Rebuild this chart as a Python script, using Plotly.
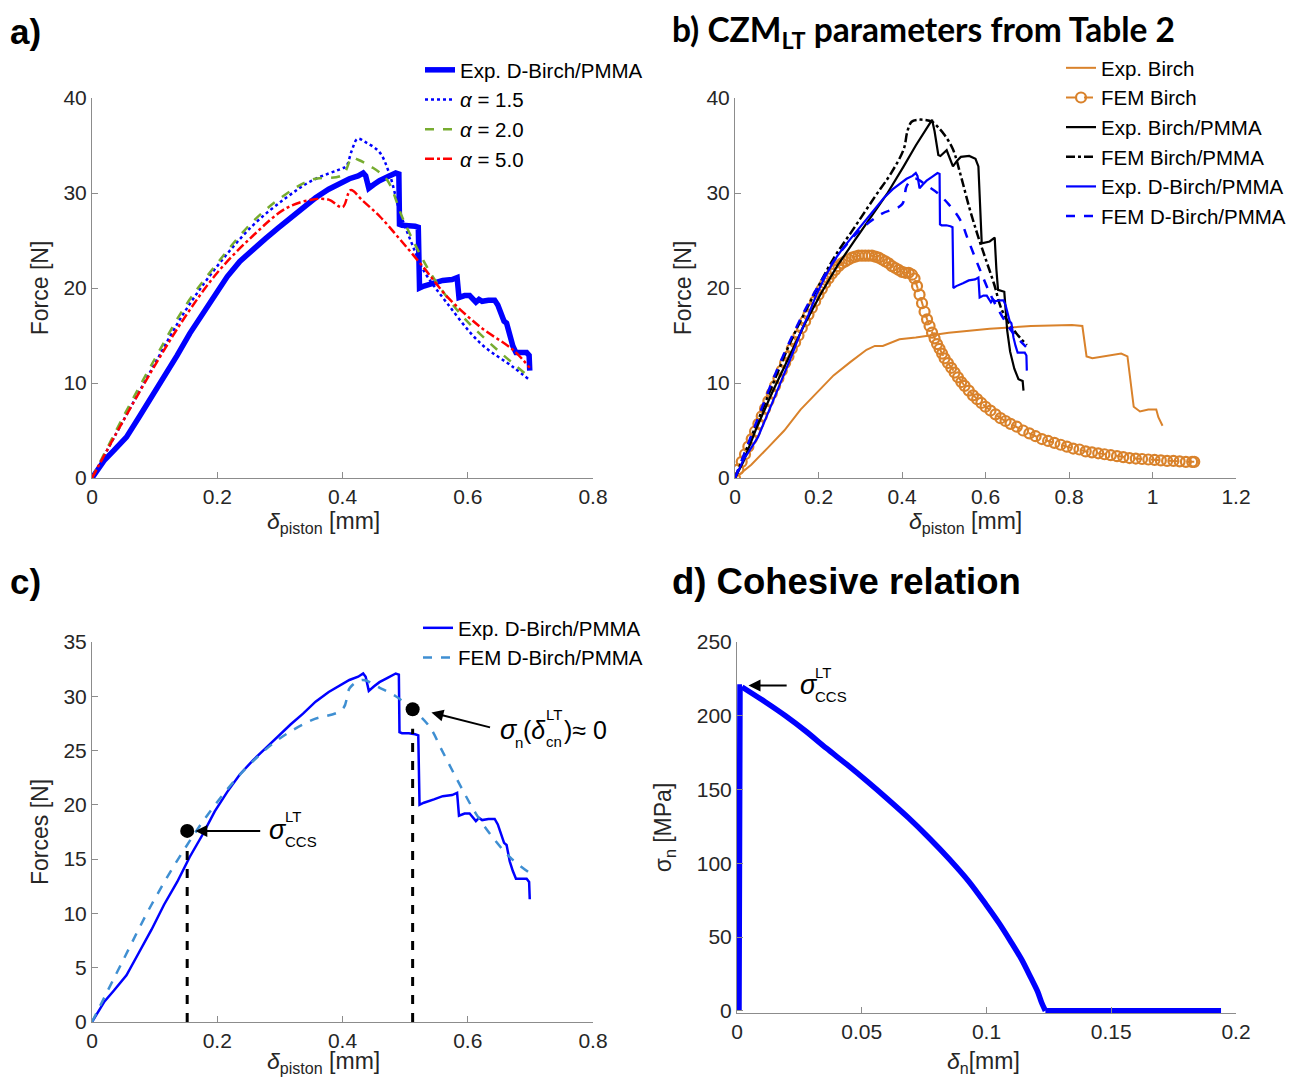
import plotly.graph_objects as go

# ---------------- DATA ----------------
# Panel a / b / c : experimental D-Birch/PMMA
exp_dbirch_x = [0, 0.02, 0.035, 0.055, 0.075, 0.095, 0.115, 0.136, 0.156, 0.176, 0.196, 0.216, 0.236, 0.257,
                0.277, 0.297, 0.317, 0.337, 0.357, 0.378, 0.398, 0.411, 0.425, 0.433, 0.437, 0.442, 0.45, 0.459,
                0.472, 0.485, 0.49, 0.491, 0.495, 0.506, 0.516, 0.521, 0.523, 0.53, 0.546, 0.56, 0.575, 0.583,
                0.586, 0.595, 0.603, 0.61, 0.613, 0.618, 0.623, 0.633, 0.643, 0.648, 0.653, 0.658, 0.662, 0.667,
                0.672, 0.677, 0.685, 0.694, 0.698, 0.699]
exp_dbirch_y = [0, 1.9, 2.9, 4.3, 6.4, 8.5, 10.8, 12.9, 15.2, 17.2, 19.4, 21.2, 22.8, 24.1,
                25.2, 26.3, 27.4, 28.4, 29.5, 30.4, 31.1, 31.5, 31.8, 32.1, 31.8, 30.5, 30.9, 31.3,
                31.7, 32.1, 32.0, 26.7, 26.6, 26.6, 26.5, 26.4, 20.0, 20.2, 20.5, 20.8, 20.9, 21.1,
                19.0, 19.2, 19.2, 18.7, 18.5, 18.8, 18.6, 18.7, 18.7, 18.2, 17.4, 16.5, 16.3, 14.8,
                13.9, 13.2, 13.2, 13.2, 12.9, 11.3]

# Panel a : FEM with different alpha
a15_x = [0, 0.048, 0.1, 0.149, 0.2, 0.257, 0.31, 0.351, 0.4, 0.406, 0.415, 0.424, 0.438, 0.459, 0.475, 0.492,
         0.51, 0.529, 0.567, 0.62, 0.672, 0.699]
a15_y = [0, 5.8, 12.0, 17.6, 22.3, 26.6, 29.5, 31.3, 32.6, 32.8, 34.5, 35.7, 35.3, 34.3, 32.0, 27.9,
         24.8, 21.9, 18.4, 14.2, 11.7, 10.3]
a20_x = [0, 0.048, 0.1, 0.149, 0.2, 0.257, 0.31, 0.351, 0.4, 0.415, 0.425, 0.445, 0.471, 0.497, 0.529, 0.551,
         0.592, 0.647, 0.699]
a20_y = [0, 6.2, 12.5, 18.1, 22.6, 27.0, 29.9, 31.4, 31.9, 33.7, 33.5, 32.8, 31.4, 27.2, 22.9, 20.5,
         17.0, 13.5, 10.6]
a50_x = [0, 0.048, 0.1, 0.149, 0.2, 0.257, 0.31, 0.351, 0.378, 0.4, 0.413, 0.432, 0.46, 0.492, 0.529, 0.567,
         0.62, 0.672, 0.699]
a50_y = [0, 5.8, 11.8, 17.0, 21.6, 25.5, 28.4, 29.3, 29.3, 28.5, 30.3, 29.2, 27.5, 25.1, 22.2, 19.1,
         15.9, 13.5, 11.6]

# Panel b
exp_birch_x = [0, 0.039, 0.079, 0.118, 0.157, 0.197, 0.236, 0.276, 0.315, 0.335, 0.354, 0.394, 0.433, 0.512,
               0.61, 0.709, 0.807, 0.832, 0.842, 0.856, 0.886, 0.925, 0.94, 0.955, 0.97, 0.99, 1.009, 1.014, 1.024]
exp_birch_y = [0, 1.4, 3.2, 5.0, 7.2, 9.0, 10.8, 12.2, 13.5, 13.9, 13.9, 14.6, 14.8, 15.3,
               15.7, 16.0, 16.1, 16.0, 12.8, 12.6, 12.8, 13.1, 12.8, 7.5, 7.0, 7.2, 7.2, 6.4, 5.5]

fem_birch_x = [0.000, 0.008, 0.016, 0.024, 0.032, 0.040, 0.048, 0.056, 0.064, 0.072, 0.080, 0.088, 0.096, 0.104,
               0.112, 0.120, 0.128, 0.136, 0.144, 0.152, 0.160, 0.168, 0.176, 0.184, 0.192, 0.200, 0.208, 0.216,
               0.224, 0.232, 0.240, 0.248, 0.256, 0.264, 0.272, 0.280, 0.288, 0.296, 0.304, 0.312, 0.320, 0.328,
               0.336, 0.344, 0.352, 0.360, 0.368, 0.376, 0.384, 0.392, 0.400, 0.408, 0.416, 0.424, 0.430, 0.436,
               0.442, 0.448, 0.454, 0.460, 0.466, 0.472, 0.478, 0.484, 0.490, 0.496, 0.502, 0.510, 0.518, 0.526,
               0.534, 0.542, 0.550, 0.560, 0.570, 0.580, 0.590, 0.600, 0.612, 0.624, 0.636, 0.648, 0.660, 0.675,
               0.690, 0.705, 0.720, 0.735, 0.750, 0.765, 0.780, 0.795, 0.810, 0.825, 0.840, 0.855, 0.870, 0.885,
               0.900, 0.915, 0.930, 0.945, 0.960, 0.975, 0.990, 1.005, 1.020, 1.035, 1.050, 1.065, 1.080, 1.095,
               1.100]
fem_birch_y = [0.0, 0.9, 1.7, 2.5, 3.3, 4.1, 4.9, 5.7, 6.5, 7.3, 8.1, 8.9, 9.7, 10.5,
               11.3, 12.1, 12.8, 13.6, 14.3, 15.0, 15.8, 16.5, 17.2, 17.9, 18.6, 19.3, 19.9, 20.5,
               21.0, 21.5, 21.9, 22.3, 22.6, 22.8, 23.0, 23.2, 23.3, 23.4, 23.4, 23.4, 23.4, 23.4,
               23.3, 23.2, 23.0, 22.8, 22.6, 22.3, 22.1, 21.9, 21.7, 21.6, 21.6, 21.4, 21.0, 20.2,
               19.3, 18.4, 17.5, 16.7, 16.0, 15.3, 14.7, 14.1, 13.6, 13.1, 12.6, 12.1, 11.6, 11.1,
               10.6, 10.1, 9.7, 9.2, 8.7, 8.3, 7.9, 7.5, 7.1, 6.7, 6.3, 6.0, 5.7, 5.4,
               5.0, 4.7, 4.4, 4.1, 3.9, 3.7, 3.5, 3.3, 3.1, 3.0, 2.8, 2.7, 2.6, 2.5,
               2.4, 2.3, 2.2, 2.1, 2.05, 2.0, 1.95, 1.9, 1.85, 1.8, 1.8, 1.75, 1.7, 1.7,
               1.7]

exp_bp_x = [0, 0.02, 0.049, 0.089, 0.128, 0.167, 0.207, 0.246, 0.285, 0.325, 0.364, 0.404, 0.433, 0.472, 0.478,
            0.487, 0.492, 0.507, 0.515, 0.522, 0.532, 0.541, 0.561, 0.576, 0.583, 0.591, 0.61, 0.622, 0.626,
            0.63, 0.645, 0.648, 0.652, 0.659, 0.669, 0.679, 0.689, 0.691]
exp_bp_y = [0, 1.7, 5.0, 9.0, 12.6, 16.2, 19.5, 22.4, 24.9, 27.4, 29.9, 32.8, 35.0, 37.7, 36.5,
            34.0, 33.9, 34.5, 33.6, 32.8, 33.4, 33.8, 33.9, 33.6, 32.8, 24.7, 24.9, 25.3, 22.0,
            19.8, 19.6, 17.6, 15.5, 13.3, 11.5, 10.4, 10.2, 9.2]

fem_bp_x = [0, 0.039, 0.089, 0.138, 0.187, 0.236, 0.285, 0.335, 0.374, 0.404, 0.413, 0.423, 0.437, 0.453,
            0.472, 0.487, 0.502, 0.522, 0.541, 0.561, 0.581, 0.6, 0.62, 0.64, 0.669, 0.699]
fem_bp_y = [0, 4.3, 9.7, 14.8, 19.1, 23.1, 26.3, 29.6, 32.1, 34.6, 36.5, 37.5, 37.7, 37.7,
            37.5, 36.9, 36.1, 34.6, 31.8, 28.5, 25.6, 23.1, 20.5, 17.6, 15.5, 14.0]

fem_dbirch_x = [0, 0.048, 0.095, 0.143, 0.19, 0.243, 0.297, 0.351, 0.4, 0.412, 0.432, 0.459, 0.485, 0.512,
                0.539, 0.559, 0.586, 0.613, 0.64, 0.667, 0.697]
fem_dbirch_y = [0, 5.5, 10.8, 15.5, 19.5, 23.2, 26.0, 27.8, 28.8, 30.8, 31.5, 30.8, 30.0, 28.8,
                27.2, 25.0, 22.0, 19.2, 17.0, 15.2, 13.8]

# Panel c markers
ccs_point = [0.152, 17.6]
cn_point = [0.512, 28.8]
ccs_drop_y = [0, 16.0]
cn_drop_y = [0, 27.0]

# Panel d : cohesive law (rise, softening branch, fully open)
coh_x = [0.0008, 0.0012, 0.002, 0.0112, 0.0194, 0.0276, 0.0358, 0.044, 0.0522, 0.0604, 0.0686, 0.0768, 0.085,
         0.093, 0.0998, 0.105, 0.1097, 0.114, 0.1179, 0.1205, 0.122, 0.1236, 0.194]
coh_y = [0, 219.5, 219.5, 209.5, 200.0, 189.5, 178.0, 167.0, 155.5, 143.5, 131.0, 117.5, 103.0,
         87.5, 72.0, 59.5, 47.0, 35.0, 22.0, 13.0, 6.0, 0, 0]

# Tick values / labels
ticks_08 = [0, 0.2, 0.4, 0.6, 0.8]
ticks_08_lbl = ["0", "0.2", "0.4", "0.6", "0.8"]
ticks_12 = [0, 0.2, 0.4, 0.6, 0.8, 1.0, 1.2]
ticks_12_lbl = ["0", "0.2", "0.4", "0.6", "0.8", "1", "1.2"]
ticks_d = [0, 0.05, 0.1, 0.15, 0.2]
ticks_d_lbl = ["0", "0.05", "0.1", "0.15", "0.2"]
yticks_40 = [0, 10, 20, 30, 40]
yticks_35 = [0, 5, 10, 15, 20, 25, 30, 35]
yticks_250 = [0, 50, 100, 150, 200, 250]

# ---------------- STYLE ----------------
# page body has an 8px margin -> figure is 1288x1071 placed at (8, 8)
W, H = 1288, 1071
OFF = 8
FONT = "Liberation Sans, Arial, sans-serif"
AXC = "#8c8c8c"
TXT = "#262626"
BLUE = "#0000ff"
ORANGE = "#d9822b"
GREEN = "#77ac30"
RED = "#ff0000"
LBLUE = "#3f8fd2"


def px_x(p):
    return (p - OFF) / W


def px_y(p):
    return 1 - (p - OFF) / H


fig = go.Figure()

# Panel a
fig.add_trace(go.Scatter(x=exp_dbirch_x, y=exp_dbirch_y, mode="lines", name="Exp. D-Birch/PMMA",
                         line=dict(color=BLUE, width=5.5), xaxis="x", yaxis="y", legend="legend"))
fig.add_trace(go.Scatter(x=a15_x, y=a15_y, mode="lines", name="<i>α</i> = 1.5", line_shape="spline",
                         line=dict(color=BLUE, width=2.5, dash="dot"), xaxis="x", yaxis="y", legend="legend"))
fig.add_trace(go.Scatter(x=a20_x, y=a20_y, mode="lines", name="<i>α</i> = 2.0", line_shape="spline",
                         line=dict(color=GREEN, width=2.5, dash="dash"), xaxis="x", yaxis="y", legend="legend"))
fig.add_trace(go.Scatter(x=a50_x, y=a50_y, mode="lines", name="<i>α</i> = 5.0", line_shape="spline",
                         line=dict(color=RED, width=2.5, dash="dashdot"), xaxis="x", yaxis="y", legend="legend"))

# Panel b
fig.add_trace(go.Scatter(x=exp_birch_x, y=exp_birch_y, mode="lines", name="Exp. Birch",
                         line=dict(color=ORANGE, width=2), xaxis="x2", yaxis="y2", legend="legend2"))
fig.add_trace(go.Scatter(x=fem_birch_x, y=fem_birch_y, mode="lines+markers", name="FEM Birch",
                         line=dict(color=ORANGE, width=2, dash="dash"),
                         marker=dict(symbol="circle-open", size=10, color=ORANGE, line=dict(width=2.2)),
                         xaxis="x2", yaxis="y2", legend="legend2"))
fig.add_trace(go.Scatter(x=exp_bp_x, y=exp_bp_y, mode="lines", name="Exp. Birch/PMMA",
                         line=dict(color="black", width=2.2), xaxis="x2", yaxis="y2", legend="legend2"))
fig.add_trace(go.Scatter(x=fem_bp_x, y=fem_bp_y, mode="lines", name="FEM Birch/PMMA", line_shape="spline",
                         line=dict(color="black", width=2.5, dash="dashdot"), xaxis="x2", yaxis="y2",
                         legend="legend2"))
fig.add_trace(go.Scatter(x=exp_dbirch_x, y=exp_dbirch_y, mode="lines", name="Exp. D-Birch/PMMA",
                         line=dict(color=BLUE, width=2.2), xaxis="x2", yaxis="y2", legend="legend2"))
fig.add_trace(go.Scatter(x=fem_dbirch_x, y=fem_dbirch_y, mode="lines", name="FEM D-Birch/PMMA",
                         line_shape="spline",
                         line=dict(color=BLUE, width=2.5, dash="dash"), xaxis="x2", yaxis="y2", legend="legend2"))

# Panel c
fig.add_trace(go.Scatter(x=exp_dbirch_x, y=exp_dbirch_y, mode="lines", name="Exp. D-Birch/PMMA",
                         line=dict(color=BLUE, width=2.5), xaxis="x3", yaxis="y3", legend="legend3"))
fig.add_trace(go.Scatter(x=fem_dbirch_x, y=fem_dbirch_y, mode="lines", name="FEM D-Birch/PMMA",
                         line_shape="spline",
                         line=dict(color=LBLUE, width=2.5, dash="dash"), xaxis="x3", yaxis="y3", legend="legend3"))
fig.add_trace(go.Scatter(x=[ccs_point[0], ccs_point[0]], y=ccs_drop_y, mode="lines", showlegend=False,
                         line=dict(color="black", width=3, dash="dash"), xaxis="x3", yaxis="y3"))
fig.add_trace(go.Scatter(x=[cn_point[0], cn_point[0]], y=cn_drop_y, mode="lines", showlegend=False,
                         line=dict(color="black", width=3, dash="dash"), xaxis="x3", yaxis="y3"))
fig.add_trace(go.Scatter(x=[ccs_point[0], cn_point[0]], y=[ccs_point[1], cn_point[1]], mode="markers",
                         showlegend=False, marker=dict(color="black", size=14), xaxis="x3", yaxis="y3"))

# Panel d : sharp rise and open part as straight segments, softening branch smoothed
fig.add_trace(go.Scatter(x=coh_x[:3], y=coh_y[:3], mode="lines", showlegend=False,
                         line=dict(color=BLUE, width=5.5), xaxis="x4", yaxis="y4"))
fig.add_trace(go.Scatter(x=coh_x[2:22], y=coh_y[2:22], mode="lines", showlegend=False, line_shape="spline",
                         line=dict(color=BLUE, width=5.5, smoothing=0.8), xaxis="x4", yaxis="y4"))
fig.add_trace(go.Scatter(x=coh_x[21:], y=coh_y[21:], mode="lines", showlegend=False,
                         line=dict(color=BLUE, width=5.5), xaxis="x4", yaxis="y4"))

# ---------------- AXES ----------------
tickfont = dict(family=FONT, size=21, color=TXT)
titlefont = dict(family=FONT, size=23, color=TXT)


def xax(domain, rng, tv, tt, anchor):
    return dict(domain=domain, range=rng, tickvals=tv, ticktext=tt, anchor=anchor, showline=True,
                linecolor=AXC, linewidth=1, ticks="inside", ticklen=6, tickcolor=AXC, showgrid=False,
                zeroline=False, tickfont=tickfont, fixedrange=True, automargin=False)


def yax(domain, rng, tv, anchor, title, standoff=8):
    return dict(domain=domain, range=rng, tickvals=tv, anchor=anchor, showline=True,
                linecolor=AXC, linewidth=1, ticks="inside", ticklen=6, tickcolor=AXC, showgrid=False,
                zeroline=False, tickfont=tickfont, title=dict(text=title, font=titlefont, standoff=standoff),
                fixedrange=True, automargin=False)


xd_left = [px_x(92), px_x(593)]
xd_right_b = [px_x(735), px_x(1236)]
xd_right_d = [px_x(737), px_x(1236)]
yd_top = [px_y(478), px_y(98)]
yd_c = [px_y(1022), px_y(642)]
yd_d = [px_y(1013), px_y(642)]

fig.update_layout(
    xaxis=xax(xd_left, [0, 0.8], ticks_08, ticks_08_lbl, "y"),
    yaxis=yax(yd_top, [0, 40], yticks_40, "x", "Force [N]"),
    xaxis2=xax(xd_right_b, [0, 1.2], ticks_12, ticks_12_lbl, "y2"),
    yaxis2=yax(yd_top, [0, 40], yticks_40, "x2", "Force [N]"),
    xaxis3=xax(xd_left, [0, 0.8], ticks_08, ticks_08_lbl, "y3"),
    yaxis3=yax(yd_c, [0, 35], yticks_35, "x3", "Forces [N]"),
    xaxis4=xax(xd_right_d, [0, 0.2], ticks_d, ticks_d_lbl, "y4"),
    yaxis4=yax(yd_d, [-1.5, 250], yticks_250, "x4", "σ<sub>n</sub> [MPa]", standoff=18),
)

legfont = dict(family=FONT, size=20.5, color="black")
common_leg = dict(font=legfont, bgcolor="rgba(0,0,0,0)", xanchor="left", yanchor="top",
                  tracegroupgap=0, itemclick=False, itemdoubleclick=False)
fig.update_layout(
    legend=dict(x=px_x(420), y=px_y(50), **common_leg),
    legend2=dict(x=px_x(1061), y=px_y(48), **common_leg),
    legend3=dict(x=px_x(418), y=px_y(608), **common_leg),
)

# ---------------- TITLES & ANNOTATIONS ----------------
ann = []
boldA = dict(family="Liberation Sans, Arial, sans-serif", size=35, color="black")
ann.append(dict(text="<b>a)</b>", x=px_x(8), y=px_y(31), xref="paper", yref="paper", xanchor="left",
                yanchor="middle", showarrow=False, font=boldA))
ann.append(dict(text="<b>c)</b>", x=px_x(8), y=px_y(581), xref="paper", yref="paper", xanchor="left",
                yanchor="middle", showarrow=False, font=boldA))
ann.append(dict(text="<b>d) Cohesive relation</b>", x=px_x(670), y=px_y(581), xref="paper", yref="paper",
                xanchor="left", yanchor="middle", showarrow=False,
                font=dict(family="Liberation Sans, Arial, sans-serif", size=36.5, color="black")))
ann.append(dict(text="<b>b) CZM<sub>LT</sub> parameters from Table 2</b>", x=px_x(670), y=px_y(31),
                xref="paper", yref="paper", xanchor="left", yanchor="middle", showarrow=False,
                font=dict(family="Lato, sans-serif", size=33.5, color="black")))

# x-axis titles (placed as in the reference)
dtitle = "<i>δ</i><sub>piston</sub> [mm]"
xt_font = dict(family=FONT, size=23, color=TXT)
for (tx, cx, cy) in [(dtitle, 323, 522), (dtitle, 965, 522)]:
    ann.append(dict(text=tx, x=px_x(cx), y=px_y(cy), xref="paper", yref="paper", xanchor="center",
                    yanchor="middle", showarrow=False, font=xt_font))
for (tx, cx) in [(dtitle, 323), ("<i>δ</i><sub>n</sub>[mm]", 983)]:
    ann.append(dict(text=tx, x=px_x(cx), y=0, xref="paper", yref="paper", xanchor="center",
                    yanchor="bottom", showarrow=False, font=xt_font))

# Panel c arrows
ann.append(dict(x=0.165, y=ccs_point[1], ax=0.271, ay=ccs_point[1], xref="x3", yref="y3", axref="x3", ayref="y3",
                text="", showarrow=True, arrowhead=2, arrowsize=1.2, arrowwidth=2, arrowcolor="black"))
ann.append(dict(x=0.542, y=28.5, ax=0.638, ay=27.1, xref="x3", yref="y3", axref="x3", ayref="y3",
                text="", showarrow=True, arrowhead=2, arrowsize=1.2, arrowwidth=2, arrowcolor="black"))

sym = dict(family=FONT, size=27, color="black")
small = dict(family=FONT, size=15, color="black")
mid = dict(family=FONT, size=25, color="black")


def txt(t, x, y, xr, yr, f, xa="left"):
    return dict(text=t, x=x, y=y, xref=xr, yref=yr, xanchor=xa, yanchor="middle", showarrow=False, font=f)


# sigma_CCS^LT in panel c
ann.append(txt("<i>σ</i>", 0.279, 17.7, "x3", "y3", sym))
ann.append(txt("LT", 0.305, 18.9, "x3", "y3", small))
ann.append(txt("CCS", 0.305, 16.6, "x3", "y3", small))
# sigma_n(delta_cn^LT) ≈ 0
ann.append(txt("<i>σ</i>", 0.648, 26.9, "x3", "y3", sym))
ann.append(txt("n", 0.673, 25.7, "x3", "y3", small))
ann.append(txt("(<i>δ</i>", 0.685, 26.9, "x3", "y3", mid))
ann.append(txt("LT", 0.722, 28.3, "x3", "y3", small))
ann.append(txt("cn", 0.722, 25.8, "x3", "y3", small))
ann.append(txt(")≈ 0", 0.75, 26.9, "x3", "y3", mid))

# Panel d arrow + label
ann.append(dict(x=0.0046, y=220.5, ax=0.0205, ay=220.5, xref="x4", yref="y4", axref="x4", ayref="y4",
                text="", showarrow=True, arrowhead=2, arrowsize=1.2, arrowwidth=2, arrowcolor="black"))
ann.append(txt("<i>σ</i>", 0.0243, 221, "x4", "y4", sym))
ann.append(txt("LT", 0.0306, 229.5, "x4", "y4", small))
ann.append(txt("CCS", 0.0306, 213, "x4", "y4", small))

fig.update_layout(
    annotations=ann,
    width=W, height=H,
    margin=dict(l=0, r=0, t=0, b=0, autoexpand=False),
    paper_bgcolor="white", plot_bgcolor="white",
    font=dict(family=FONT, color=TXT),
)

fig.write_html("out.html")
